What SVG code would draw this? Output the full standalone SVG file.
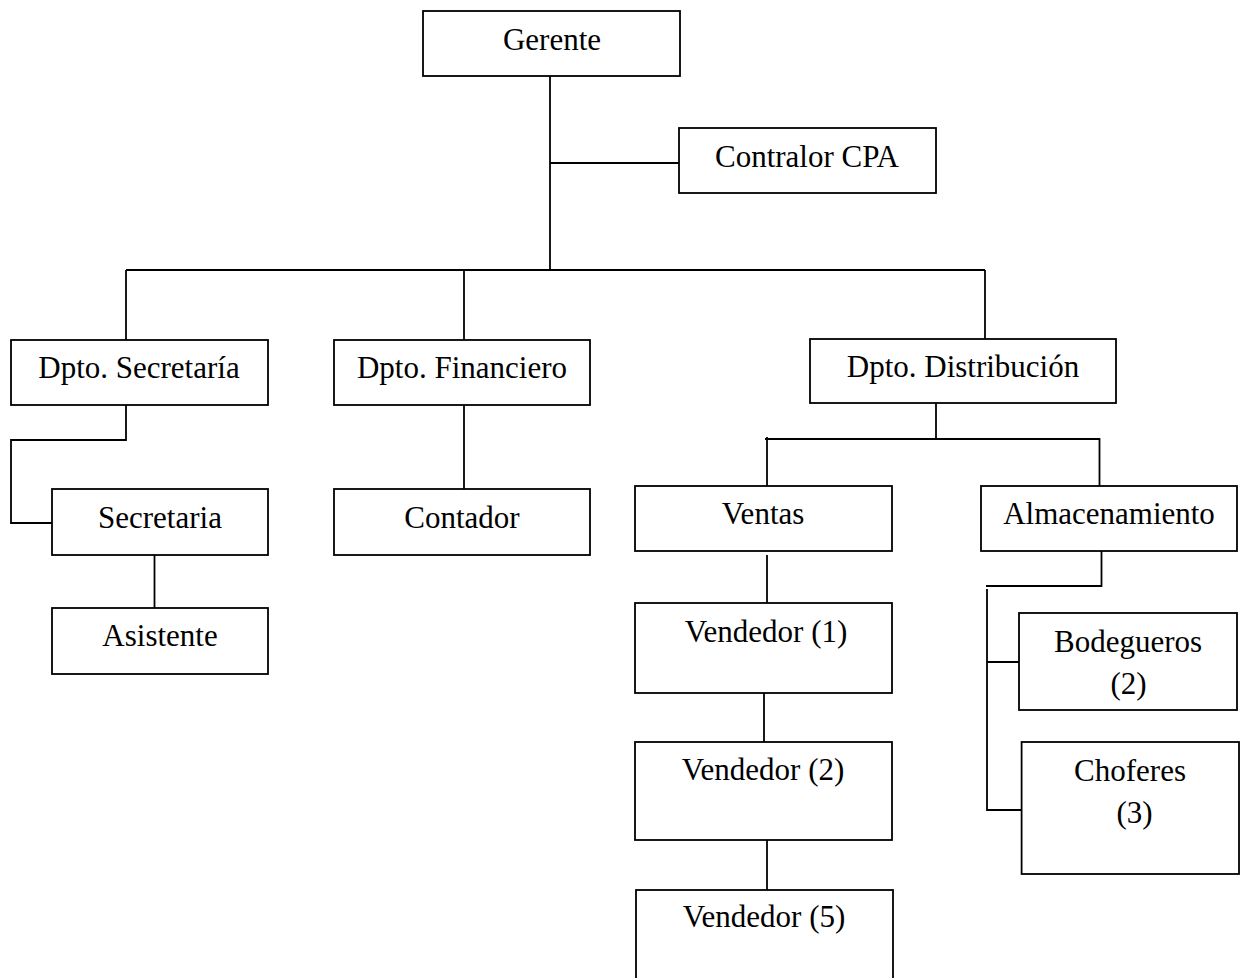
<svg xmlns="http://www.w3.org/2000/svg" width="1242" height="978" viewBox="0 0 1242 978">
<style>
.box{fill:#fff;stroke:#000;stroke-width:1.8}
.ln{fill:none;stroke:#000;stroke-width:1.8}
text{font-family:"Liberation Serif","Times New Roman",serif;font-size:31px;fill:#000;text-anchor:middle}
</style>
<rect width="1242" height="978" fill="#fff"/>
<g id="connectors">
<path class="ln" d="M550 76V270"/>
<path class="ln" d="M550 163H679"/>
<path class="ln" d="M126 270H985"/>
<path class="ln" d="M126 270V340"/>
<path class="ln" d="M464 270V340"/>
<path class="ln" d="M985 270V339"/>
<path class="ln" d="M126 405V440H11V523H52"/>
<path class="ln" d="M154.5 555V608"/>
<path class="ln" d="M464 405V489"/>
<path class="ln" d="M936 403V439"/>
<path class="ln" d="M765 439H1099.5V486"/>
<path class="ln" d="M767 437V486"/>
<path class="ln" d="M767 555V603"/>
<path class="ln" d="M764 693V742"/>
<path class="ln" d="M767 840V890"/>
<path class="ln" d="M1101.5 551V586H986"/>
<path class="ln" d="M987 589V810H1021.6"/>
<path class="ln" d="M987 662H1023"/>
</g>
<g id="gerente"><rect class="box" x="423" y="11" width="257" height="65"/><text x="552" y="50">Gerente</text></g>
<g id="contralor"><rect class="box" x="679" y="128" width="257" height="65"/><text x="807" y="167">Contralor CPA</text></g>
<g id="dpto-secretaria"><rect class="box" x="11" y="340" width="257" height="65"/><text x="139" y="378">Dpto. Secretaría</text></g>
<g id="dpto-financiero"><rect class="box" x="334" y="340" width="256" height="65"/><text x="462" y="378">Dpto. Financiero</text></g>
<g id="dpto-distribucion"><rect class="box" x="810" y="339" width="306" height="64"/><text x="963" y="377">Dpto. Distribución</text></g>
<g id="secretaria"><rect class="box" x="52" y="489" width="216" height="66"/><text x="160" y="528">Secretaria</text></g>
<g id="asistente"><rect class="box" x="52" y="608" width="216" height="66"/><text x="160" y="646">Asistente</text></g>
<g id="contador"><rect class="box" x="334" y="489" width="256" height="66"/><text x="462" y="528">Contador</text></g>
<g id="ventas"><rect class="box" x="635" y="486" width="257" height="65"/><text x="763" y="524">Ventas</text></g>
<g id="almacenamiento"><rect class="box" x="981" y="486" width="256" height="65"/><text x="1109" y="524">Almacenamiento</text></g>
<g id="vendedor1"><rect class="box" x="635" y="603" width="257" height="90"/><text x="766" y="642">Vendedor (1)</text></g>
<g id="vendedor2"><rect class="box" x="635" y="742" width="257" height="98"/><text x="763" y="780">Vendedor (2)</text></g>
<g id="vendedor5"><rect class="box" x="636" y="890" width="257" height="100"/><text x="764" y="927">Vendedor (5)</text></g>
<g id="bodegueros"><rect class="box" x="1019" y="613" width="218" height="97"/><text x="1128" y="652">Bodegueros</text><text x="1128.5" y="694">(2)</text></g>
<g id="choferes"><rect class="box" x="1021.6" y="742" width="217.4" height="132"/><text x="1130" y="781">Choferes</text><text x="1134.5" y="823">(3)</text></g>
</svg>
